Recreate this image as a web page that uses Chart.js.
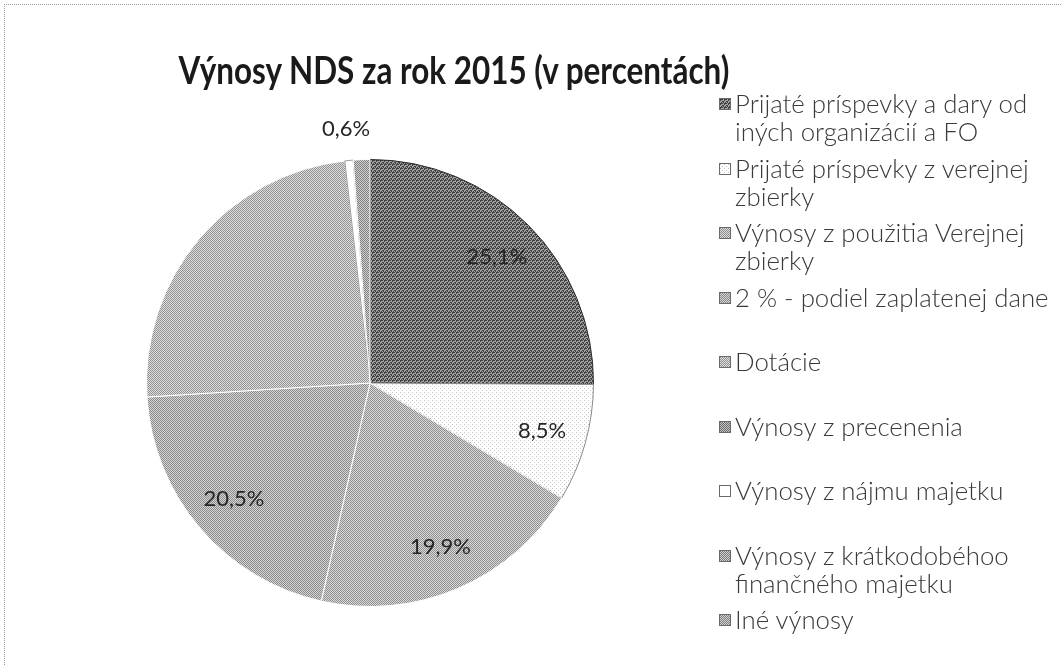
<!DOCTYPE html>
<html lang="sk">
<head>
<meta charset="utf-8">
<title>Výnosy NDS za rok 2015</title>
<script src="https://cdn.jsdelivr.net/npm/chart.js@4.4.1/dist/chart.umd.min.js"></script>
<style>
  html, body { margin: 0; padding: 0; background: #fff; }
  #wrap { position: relative; width: 1062px; height: 665px; overflow: hidden; font-family: Lato, "Open Sans", sans-serif; }
  #ramik { position: absolute; left: 4px; top: 4px; width: 1200px; height: 800px; border-left: 1px dotted #9a9a9a; border-top: 1px dotted #9a9a9a; }
  #graf { position: absolute; left: 0; top: 0; }
  #titulok { position: absolute; left: 0; top: 46px; width: 908px; margin: 0; text-align: center; font-weight: bold; color: #1a1a1a; line-height: 46px; transform-origin: 454px 50%; }
  #legenda { position: absolute; left: 719px; top: 89px; }
  .pol { height: 64.5px; display: flex; align-items: flex-start; }
  .box { width: 10px; height: 10px; border: 1px solid #6a6a6a; margin-top: 9px; margin-right: 4px; flex: none; }
  .txt { line-height: 28px; color: #3a3a3a; font-weight: 300; white-space: nowrap; }
</style>
</head>
<body>
<div id="wrap">
  <div id="ramik"></div>
  <canvas id="graf" width="1062" height="665"></canvas>
  <h1 id="titulok">Výnosy NDS za rok 2015 (v percentách)</h1>
  <div id="legenda"></div>
</div>
<script>
document.addEventListener("DOMContentLoaded", function () {
    const nazov = "Výnosy NDS za rok 2015 (v percentách)";

    const kategorie = [
        ["Prijaté príspevky a dary od", "iných organizácií a FO"],
        ["Prijaté príspevky z verejnej", "zbierky"],
        ["Výnosy z použitia Verejnej", "zbierky"],
        ["2 % - podiel zaplatenej dane"],
        ["Dotácie"],
        ["Výnosy z precenenia"],
        ["Výnosy z nájmu majetku"],
        ["Výnosy z krátkodobéhoo", "finančného majetku"],
        ["Iné výnosy"],
    ];
    const hodnoty = [25.1, 8.5, 19.9, 20.5, 24.2, 0, 0.6, 0, 1.2];
    const zobrazitStitok = [true, true, true, true, false, false, true, false, false];

    const pismo = 'Lato, "Open Sans", sans-serif';

    function sirka(text, font) {
        const g = document.createElement("canvas").getContext("2d");
        g.font = font;
        return g.measureText(text).width;
    }
    // velkost pisma podla sirky textu v predlohe
    function velkost(text, vaha, cielSirka) {
        return (100 * cielSirka) / sirka(text, vaha + " 100px " + pismo);
    }

    // jednoduche sedive vzory namiesto vyplni z Excelu
    function vzor(w, h, pozadie, popredie, body) {
        const c = document.createElement("canvas");
        c.width = w;
        c.height = h;
        const g = c.getContext("2d");
        g.fillStyle = pozadie;
        g.fillRect(0, 0, w, h);
        g.fillStyle = popredie;
        body.forEach(function (b) { g.fillRect(b[0], b[1], 1, 1); });
        return c;
    }
    const sach = [[0, 0], [1, 1]];
    const bludisko = [[0, 0], [1, 0], [2, 0], [0, 1], [2, 2], [3, 2], [1, 3], [3, 3]];
    const bodky = [[0, 0], [2, 2]];
    const dlazdice = [
        vzor(4, 4, "#a2a2a2", "#404040", bludisko),
        vzor(4, 4, "#ffffff", "#c4c4c4", bodky),
        vzor(2, 2, "#dadada", "#8e8e8e", sach),
        vzor(2, 2, "#d6d6d6", "#8a8a8a", sach),
        vzor(2, 2, "#dedede", "#929292", sach),
        vzor(2, 2, "#c4c4c4", "#6c6c6c", sach),
        vzor(2, 2, "#ffffff", "#ffffff", sach),
        vzor(2, 2, "#d0d0d0", "#7a7a7a", sach),
        vzor(2, 2, "#d0d0d0", "#808080", sach),
    ];
    const ctx = document.getElementById("graf").getContext("2d");
    const vyplne = dlazdice.map(function (t) { return ctx.createPattern(t, "repeat"); });
    const okraje = ["#2a2a2a", "#8a8a8a", "#ffffff", "#ffffff", "#ffffff", "#ffffff", "#9a9a9a", "#ffffff", "#ffffff"];

    // nadpis: vyssie pismo stiahnute na sirku predlohy (uzsie pismo ako Calibri)
    const titulok = document.getElementById("titulok");
    const velkostNadpisu = 38;
    titulok.style.fontSize = velkostNadpisu + "px";
    const prirodzena = sirka(nazov, "bold " + velkostNadpisu + "px " + pismo);
    titulok.style.transform = "scaleX(" + (552 / prirodzena).toFixed(3) + ")";

    const velkostLegendy = velkost("2 % - podiel zaplatenej dane", "300", 314);
    const legenda = document.getElementById("legenda");
    kategorie.forEach(function (riadky, i) {
        const pol = document.createElement("div");
        pol.className = "pol";
        const box = document.createElement("span");
        box.className = "box";
        box.style.backgroundImage = "url(" + dlazdice[i].toDataURL() + ")";
        const txt = document.createElement("span");
        txt.className = "txt";
        txt.style.fontSize = velkostLegendy.toFixed(1) + "px";
        txt.innerHTML = riadky.join("<br>");
        pol.appendChild(box);
        pol.appendChild(txt);
        legenda.appendChild(pol);
    });

    const velkostStitku = velkost("25,1%", "normal", 61);

    const stitky = {
        id: "stitky",
        afterDatasetsDraw(chart) {
            const c = chart.ctx;
            const meta = chart.getDatasetMeta(0);
            c.save();
            c.font = velkostStitku.toFixed(1) + "px " + pismo;
            c.fillStyle = "#262626";
            c.textAlign = "center";
            c.textBaseline = "middle";
            meta.data.forEach(function (obluk, i) {
                if (!zobrazitStitok[i]) return;
                const p = obluk.getProps(["x", "y", "startAngle", "endAngle", "outerRadius"], true);
                const stred = (p.startAngle + p.endAngle) / 2;
                const r = hodnoty[i] < 2 ? p.outerRadius + 32 : p.outerRadius * 0.8;
                const text = hodnoty[i].toFixed(1).replace(".", ",") + "%";
                c.fillText(text, p.x + Math.cos(stred) * r, p.y + Math.sin(stred) * r);
            });
            c.restore();
        },
    };

    new Chart(ctx, {
        type: "pie",
        data: {
            labels: kategorie,
            datasets: [
                {
                    data: hodnoty,
                    backgroundColor: vyplne,
                    borderColor: okraje,
                    borderWidth: function (k) { return k.raw > 0 ? 1 : 0; },
                },
            ],
        },
        options: {
            responsive: false,
            animation: false,
            layout: {
                padding: { left: 146, right: 468, top: 159, bottom: 58 },
            },
            plugins: {
                legend: { display: false },
                title: { display: false },
                tooltip: { enabled: false },
            },
        },
        plugins: [stitky],
    });
});
</script>
</body>
</html>
